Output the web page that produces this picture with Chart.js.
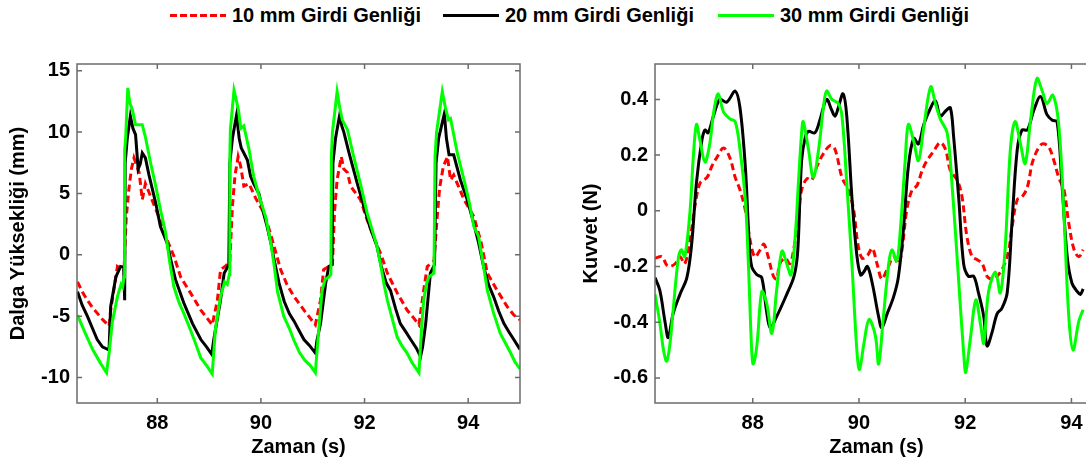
<!DOCTYPE html>
<html lang="tr">
<head>
<meta charset="utf-8">
<title>Dalga yüksekliği ve kuvvet</title>
<script src="https://cdn.jsdelivr.net/npm/chart.js@4.4.1/dist/chart.umd.min.js"></script>
<style>
  html, body { margin: 0; padding: 0; background: #fff; overflow: hidden; }
  #sahne { position: relative; width: 1130px; height: 463px; font-family: "Liberation Sans", Arial, sans-serif; }
  canvas { position: absolute; top: 40px; }
  #solGrafik { left: 0; }
  #sagGrafik { left: 560px; }
  .lej { position: absolute; top: 4px; height: 22px; display: flex; align-items: center; font-weight: bold; font-size: 20px; color: #000; white-space: nowrap; }
  .lej span.cizgi { display: inline-block; width: 56px; height: 3px; margin-right: 6px; }
</style>
</head>
<body>
<div id="sahne">
  <div class="lej" style="left:170px"><span class="cizgi" style="background: repeating-linear-gradient(90deg, #ff0000 0 7px, transparent 7px 10px);"></span>10 mm Girdi Genliği</div>
  <div class="lej" style="left:443px"><span class="cizgi" style="background:#000"></span>20 mm Girdi Genliği</div>
  <div class="lej" style="left:718px"><span class="cizgi" style="background:#00ff00"></span>30 mm Girdi Genliği</div>
  <canvas id="solGrafik" width="540" height="423"></canvas>
  <canvas id="sagGrafik" width="570" height="423"></canvas>
</div>
<script>
// Seri adları (lejant ile aynı sıra)
const seriAdlari = ["10 mm Girdi Genliği", "20 mm Girdi Genliği", "30 mm Girdi Genliği"];

// Eksen işaretleri
const zamanIsaretleri = [88, 90, 92, 94];
const dalgaIsaretleri = [-10, -5, 0, 5, 10, 15];
const kuvvetIsaretleri = [-0.6, -0.4, -0.2, 0, 0.2, 0.4];

// Dalga yüksekliği (mm) - [zaman (s), değer]
const dalga10 = [
  [86.46, -2.2], [86.55, -3.0], [86.65, -3.7], [86.75, -4.3], [86.84, -4.75], [86.95, -5.3], [87.07, -5.8],
  [87.1, -4.5], [87.16, -2.9], [87.23, -0.95], [87.29, -1.1], [87.36, -1.0], [87.4, 3.0], [87.45, 5.3],
  [87.5, 7.0], [87.55, 7.9], [87.6, 7.3], [87.65, 6.7], [87.71, 4.5], [87.77, 5.8], [87.82, 5.3],
  [87.87, 4.75], [88.03, 3.1], [88.19, 1.2], [88.32, -0.1], [88.45, -1.8], [88.64, -3.1], [88.84, -4.5],
  [88.95, -5.1], [89.06, -5.7], [89.16, -3.7], [89.22, -1.2], [89.32, -0.9], [89.4, -0.5], [89.45, 4.0],
  [89.5, 6.5], [89.56, 8.0], [89.61, 7.2], [89.67, 5.6], [89.77, 5.8], [89.9, 4.6], [90.06, 3.4],
  [90.2, 1.5], [90.3, 0.0], [90.38, -1.2], [90.5, -2.4], [90.64, -3.4], [90.83, -4.5], [90.94, -5.1],
  [91.05, -5.7], [91.15, -3.7], [91.21, -1.2], [91.31, -0.95], [91.38, -0.8], [91.42, 3.5], [91.47, 6.1],
  [91.55, 8.0], [91.6, 7.0], [91.67, 6.7], [91.73, 5.6], [91.8, 5.2], [91.92, 4.5], [92.05, 2.85],
  [92.2, 1.2], [92.32, 0.0], [92.44, -1.5], [92.63, -3.1], [92.82, -4.5], [92.94, -5.1], [93.05, -5.7],
  [93.14, -2.9], [93.21, -0.95], [93.34, -0.5], [93.4, 3.0], [93.45, 5.5], [93.52, 7.2], [93.6, 8.0],
  [93.66, 6.1], [93.72, 6.5], [93.79, 5.8], [93.92, 4.5], [94.11, 3.1], [94.25, 1.0], [94.37, -1.5],
  [94.56, -2.9], [94.75, -4.2], [94.88, -4.9], [95.0, -5.3]
];
const dalga20 = [
  [86.46, -3.0], [86.55, -4.1], [86.65, -5.0], [86.75, -6.0], [86.84, -6.9], [86.94, -7.5], [87.04, -7.7],
  [87.07, -7.6], [87.1, -4.2], [87.2, -1.8], [87.29, -0.95], [87.35, -1.0], [87.37, -3.7], [87.38, 7.5],
  [87.42, 9.5], [87.48, 11.3], [87.53, 10.3], [87.58, 9.8], [87.63, 7.0], [87.67, 7.4], [87.71, 8.3],
  [87.77, 7.9], [87.84, 6.5], [87.97, 4.2], [88.06, 2.3], [88.19, 0.95], [88.26, -0.4], [88.35, -2.0],
  [88.51, -3.9], [88.68, -5.6], [88.84, -6.9], [88.95, -7.5], [89.05, -8.1], [89.09, -6.9], [89.22, -3.7],
  [89.29, -1.5], [89.38, -0.8], [89.4, 7.5], [89.45, 9.5], [89.53, 11.4], [89.58, 9.5], [89.62, 8.7],
  [89.67, 8.3], [89.74, 7.7], [89.8, 6.4], [89.86, 5.8], [89.96, 5.0], [90.05, 3.4], [90.12, 2.3],
  [90.2, 0.8], [90.25, -0.3], [90.35, -2.3], [90.45, -3.8], [90.55, -4.8], [90.64, -5.4], [90.74, -6.2],
  [90.83, -6.9], [90.94, -7.4], [91.05, -8.0], [91.08, -7.0], [91.15, -5.6], [91.25, -2.3], [91.31, -0.95],
  [91.37, -0.8], [91.39, 7.5], [91.44, 9.5], [91.52, 11.4], [91.56, 10.5], [91.6, 10.0], [91.7, 8.3],
  [91.86, 5.8], [91.99, 3.9], [92.1, 2.3], [92.24, 0.7], [92.32, -0.9], [92.42, -2.3], [92.5, -2.9],
  [92.6, -4.4], [92.69, -5.6], [92.8, -6.3], [92.89, -6.9], [93.0, -7.6], [93.08, -8.3], [93.12, -7.5],
  [93.18, -5.6], [93.27, -1.5], [93.35, -0.8], [93.38, 7.5], [93.43, 9.5], [93.54, 11.5], [93.58, 9.5],
  [93.63, 8.15], [93.72, 8.15], [93.85, 6.1], [93.98, 4.5], [94.08, 3.0], [94.2, 1.0], [94.3, -1.0],
  [94.4, -2.5], [94.49, -3.4], [94.59, -4.6], [94.69, -5.6], [94.79, -6.3], [94.88, -6.9], [95.0, -7.7]
];
const dalga30 = [
  [86.46, -4.9], [86.6, -6.3], [86.75, -7.7], [86.9, -8.8], [87.02, -9.6], [87.07, -8.0], [87.13, -5.5],
  [87.23, -3.4], [87.3, -2.4], [87.33, -2.6], [87.36, -1.8], [87.37, 8.5], [87.39, 9.6], [87.43, 13.6],
  [87.47, 12.4], [87.52, 11.8], [87.58, 10.6], [87.71, 10.6], [87.77, 9.6], [87.87, 7.5], [87.97, 5.6],
  [88.06, 3.7], [88.16, 1.8], [88.24, -0.6], [88.32, -2.6], [88.42, -3.9], [88.51, -4.75], [88.61, -5.8],
  [88.71, -6.9], [88.84, -8.4], [88.95, -9.0], [89.06, -9.7], [89.12, -6.1], [89.22, -3.4], [89.3, -2.2],
  [89.35, -2.4], [89.39, -1.6], [89.4, 8.0], [89.41, 10.2], [89.48, 13.4], [89.53, 12.5], [89.57, 11.7],
  [89.61, 10.3], [89.67, 10.5], [89.77, 8.6], [89.86, 6.4], [89.95, 5.0], [90.09, 3.1], [90.19, 1.0],
  [90.26, -1.0], [90.32, -3.0], [90.44, -5.0], [90.55, -6.0], [90.64, -7.0], [90.75, -8.0], [90.85, -8.6],
  [90.95, -9.0], [91.05, -9.6], [91.1, -6.9], [91.18, -2.9], [91.24, -2.0], [91.31, -1.8], [91.35, -1.6],
  [91.36, 8.0], [91.38, 10.0], [91.47, 13.3], [91.52, 12.0], [91.57, 11.0], [91.67, 10.2], [91.79, 8.0],
  [91.92, 5.8], [92.05, 3.4], [92.15, 2.0], [92.24, 0.7], [92.31, -0.8], [92.38, -2.5], [92.44, -3.7],
  [92.54, -5.3], [92.63, -6.7], [92.72, -7.4], [92.82, -8.0], [92.92, -8.8], [93.05, -9.6], [93.1, -6.0],
  [93.14, -3.7], [93.2, -2.3], [93.24, -1.8], [93.34, -1.5], [93.36, 8.0], [93.39, 10.0], [93.5, 13.3],
  [93.56, 12.0], [93.62, 11.0], [93.66, 11.1], [93.72, 9.8], [93.79, 8.3], [93.92, 6.1], [94.02, 4.3],
  [94.11, 2.3], [94.2, 1.5], [94.28, -0.5], [94.37, -2.9], [94.49, -4.75], [94.62, -6.4], [94.72, -7.2],
  [94.82, -8.0], [94.9, -8.7], [95.0, -9.3]
];

// Kuvvet (N) - [zaman (s), değer]
const kuvvet10 = [
  [86.16, -0.17], [86.29, -0.165], [86.38, -0.195], [86.44, -0.2], [86.54, -0.19], [86.63, -0.165],
  [86.72, -0.19], [86.82, -0.105], [86.91, 0.015], [87.01, 0.1], [87.14, 0.12], [87.23, 0.16],
  [87.32, 0.19], [87.45, 0.225], [87.57, 0.19], [87.67, 0.12], [87.76, 0.075], [87.86, 0.003],
  [87.95, -0.105], [88.04, -0.165], [88.14, -0.14], [88.21, -0.12], [88.29, -0.165], [88.39, -0.235],
  [88.45, -0.245], [88.51, -0.19], [88.61, -0.17], [88.7, -0.19], [88.77, -0.14], [88.86, -0.02],
  [88.92, 0.075], [89.02, 0.115], [89.11, 0.11], [89.21, 0.16], [89.33, 0.205], [89.46, 0.235],
  [89.55, 0.22], [89.68, 0.12], [89.8, 0.075], [89.9, 0.003], [89.98, -0.12], [90.06, -0.17],
  [90.16, -0.16], [90.25, -0.135], [90.34, -0.19], [90.43, -0.245], [90.53, -0.21], [90.65, -0.165],
  [90.74, -0.19], [90.81, -0.14], [90.9, 0.003], [91.0, 0.075], [91.09, 0.09], [91.19, 0.145],
  [91.28, 0.18], [91.41, 0.215], [91.53, 0.245], [91.63, 0.22], [91.72, 0.145], [91.85, 0.11],
  [91.94, 0.05], [92.03, -0.09], [92.13, -0.165], [92.22, -0.175], [92.32, -0.19], [92.41, -0.235],
  [92.5, -0.245], [92.6, -0.235], [92.72, -0.2], [92.82, -0.14], [92.88, -0.06], [92.98, 0.04],
  [93.07, 0.05], [93.17, 0.085], [93.26, 0.17], [93.35, 0.215], [93.45, 0.24], [93.57, 0.23],
  [93.67, 0.18], [93.76, 0.12], [93.86, 0.075], [93.95, -0.045], [94.05, -0.14], [94.14, -0.165],
  [94.22, -0.14]
];
const kuvvet20 = [
  [86.16, -0.24], [86.25, -0.285], [86.35, -0.4], [86.41, -0.455], [86.5, -0.37], [86.63, -0.3],
  [86.76, -0.24], [86.85, -0.12], [86.94, 0.1], [87.04, 0.25], [87.1, 0.29], [87.16, 0.28],
  [87.26, 0.34], [87.38, 0.4], [87.51, 0.39], [87.67, 0.43], [87.76, 0.37], [87.86, 0.16],
  [87.93, -0.1], [87.98, -0.2], [88.08, -0.23], [88.17, -0.24], [88.26, -0.36], [88.33, -0.42],
  [88.45, -0.38], [88.64, -0.3], [88.77, -0.24], [88.83, -0.18], [88.86, -0.1], [88.92, 0.18],
  [88.99, 0.265], [89.05, 0.285], [89.17, 0.28], [89.27, 0.33], [89.39, 0.4], [89.49, 0.36],
  [89.55, 0.34], [89.61, 0.37], [89.7, 0.42], [89.77, 0.34], [89.87, 0.04], [89.96, -0.16],
  [90.03, -0.23], [90.09, -0.22], [90.16, -0.2], [90.25, -0.26], [90.37, -0.38], [90.43, -0.42],
  [90.53, -0.37], [90.65, -0.31], [90.74, -0.24], [90.84, -0.06], [90.93, 0.16], [91.03, 0.26],
  [91.12, 0.24], [91.22, 0.31], [91.35, 0.37], [91.44, 0.395], [91.53, 0.34], [91.64, 0.36],
  [91.72, 0.37], [91.78, 0.27], [91.88, 0.04], [91.97, -0.19], [92.06, -0.235], [92.16, -0.235],
  [92.25, -0.295], [92.35, -0.38], [92.41, -0.485], [92.5, -0.44], [92.6, -0.37], [92.69, -0.35],
  [92.79, -0.295], [92.88, -0.045], [92.98, 0.22], [93.07, 0.29], [93.17, 0.29], [93.29, 0.36],
  [93.42, 0.41], [93.54, 0.345], [93.64, 0.325], [93.73, 0.32], [93.82, 0.1], [93.92, -0.165],
  [94.01, -0.26], [94.11, -0.29], [94.17, -0.3], [94.22, -0.28]
];
const kuvvet30 = [
  [86.16, -0.3], [86.25, -0.4], [86.32, -0.5], [86.38, -0.54], [86.44, -0.48], [86.5, -0.36],
  [86.6, -0.17], [86.66, -0.14], [86.72, -0.165], [86.82, 0.0], [86.88, 0.19], [86.94, 0.31],
  [87.0, 0.26], [87.1, 0.175], [87.19, 0.24], [87.27, 0.36], [87.35, 0.42], [87.45, 0.355],
  [87.57, 0.33], [87.67, 0.32], [87.76, 0.22], [87.86, 0.04], [87.92, -0.2], [87.98, -0.5],
  [88.01, -0.55], [88.08, -0.48], [88.17, -0.29], [88.26, -0.33], [88.36, -0.44], [88.45, -0.285],
  [88.55, -0.145], [88.64, -0.19], [88.72, -0.23], [88.8, -0.09], [88.86, 0.1], [88.92, 0.28],
  [88.95, 0.32], [89.05, 0.22], [89.14, 0.12], [89.24, 0.22], [89.33, 0.37], [89.39, 0.43],
  [89.49, 0.4], [89.61, 0.385], [89.68, 0.34], [89.77, 0.1], [89.87, -0.2], [89.96, -0.5],
  [90.01, -0.57], [90.09, -0.48], [90.19, -0.39], [90.31, -0.45], [90.37, -0.55], [90.46, -0.38],
  [90.56, -0.19], [90.62, -0.14], [90.71, -0.18], [90.77, -0.09], [90.87, 0.18], [90.93, 0.31],
  [91.03, 0.25], [91.12, 0.18], [91.22, 0.3], [91.35, 0.445], [91.44, 0.385], [91.53, 0.33],
  [91.66, 0.28], [91.75, 0.1], [91.88, -0.26], [91.98, -0.535], [92.01, -0.58], [92.1, -0.455],
  [92.2, -0.32], [92.29, -0.41], [92.35, -0.475], [92.44, -0.29], [92.57, -0.22], [92.66, -0.295],
  [92.75, -0.14], [92.85, 0.22], [92.94, 0.32], [93.04, 0.24], [93.13, 0.17], [93.23, 0.325],
  [93.35, 0.475], [93.45, 0.43], [93.54, 0.385], [93.65, 0.415], [93.76, 0.31], [93.86, -0.02],
  [93.95, -0.38], [94.03, -0.5], [94.14, -0.395], [94.22, -0.355]
];

Chart.defaults.font.family = "'Liberation Sans', Arial, Helvetica, sans-serif";
Chart.defaults.color = "#000";

// Çerçeve ve içe dönük işaret çizgileri (MATLAB görünümü)
const cerceve = {
  id: "cerceve",
  afterDatasetsDraw(chart) {
    const { ctx, chartArea: a, scales } = chart;
    ctx.save();
    ctx.strokeStyle = "#6b6b6b";
    ctx.lineWidth = 1.5;
    ctx.strokeRect(a.left, a.top, a.width, a.height);
    ctx.beginPath();
    scales.x.ticks.forEach((t) => {
      const px = scales.x.getPixelForValue(t.value);
      ctx.moveTo(px, a.bottom); ctx.lineTo(px, a.bottom - 5);
      ctx.moveTo(px, a.top); ctx.lineTo(px, a.top + 5);
    });
    scales.y.ticks.forEach((t) => {
      const py = scales.y.getPixelForValue(t.value);
      ctx.moveTo(a.left, py); ctx.lineTo(a.left + 5, py);
      ctx.moveTo(a.right, py); ctx.lineTo(a.right - 5, py);
    });
    ctx.stroke();
    ctx.restore();
  },
};

function seri(veri, i, egim) {
  const renkler = ["#ff0000", "#000000", "#00ff00"];
  return {
    label: seriAdlari[i],
    data: veri.map((p) => ({ x: p[0], y: p[1] })),
    borderColor: renkler[i],
    borderWidth: 3,
    borderDash: i === 0 ? [7, 4] : [],
    pointRadius: 0,
    tension: egim,
    order: 3 - i,
  };
}

function grafik(id, veriler, egim, xAralik, yAralik, yIsaretleri, yBaslik, yBaslikBosluk, solGenislik, sagBosluk) {
  new Chart(document.getElementById(id), {
    type: "line",
    data: { datasets: veriler.map((v, i) => seri(v, i, egim)) },
    options: {
      responsive: false,
      animation: false,
      layout: { padding: { top: 24, right: sagBosluk, left: 0, bottom: 0 } },
      plugins: { legend: { display: false }, tooltip: { enabled: false } },
      scales: {
        x: {
          type: "linear",
          min: xAralik[0],
          max: xAralik[1],
          grid: { display: false, drawTicks: false, tickLength: 0 },
          border: { display: false },
          afterBuildTicks: (s) => { s.ticks = zamanIsaretleri.map((v) => ({ value: v })); },
          afterFit: (s) => { s.height = 60; },
          ticks: { padding: 8, font: { size: 20, weight: "bold" } },
          title: { display: true, text: "Zaman (s)", font: { size: 20, weight: "bold" }, padding: { top: 0, bottom: 4 } },
        },
        y: {
          min: yAralik[0],
          max: yAralik[1],
          grid: { display: false, drawTicks: false, tickLength: 0 },
          border: { display: false },
          afterBuildTicks: (s) => { s.ticks = yIsaretleri.map((v) => ({ value: v })); },
          afterFit: (s) => { s.width = solGenislik; },
          ticks: { padding: 7, font: { size: 20, weight: "bold" }, callback: (v) => String(v) },
          title: { display: true, text: yBaslik, font: { size: 20, weight: "bold" }, padding: { top: yBaslikBosluk, bottom: 0 } },
        },
      },
    },
    plugins: [cerceve],
  });
}

// Sol: dalga yüksekliği, sağ: kuvvet
grafik("solGrafik", [dalga10, dalga20, dalga30], 0, [86.45, 95.0], [-12.07, 15.55], dalgaIsaretleri,
  "Dalga Yüksekliği (mm)", 6, 77, 20);
grafik("sagGrafik", [kuvvet10, kuvvet20, kuvvet30], 0.35, [86.16, 94.5], [-0.69, 0.527], kuvvetIsaretleri,
  "Kuvvet (N)", 19, 95, 32);
</script>
</body>
</html>
